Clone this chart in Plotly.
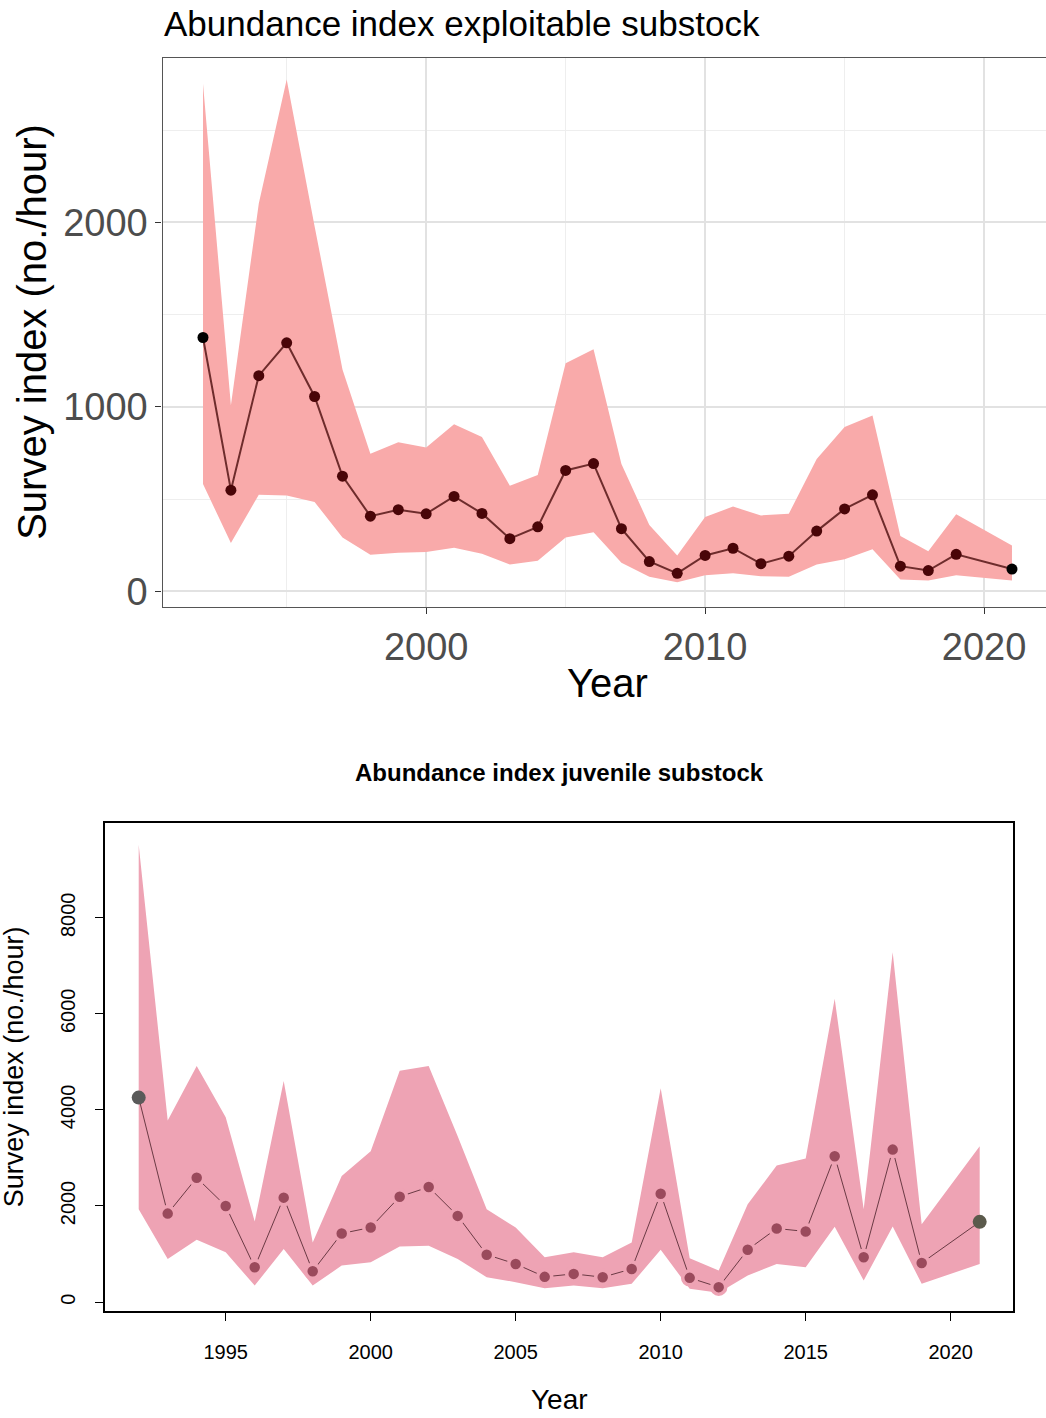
import plotly.graph_objects as go

W, H = 1046, 1418

years = [1992, 1993, 1994, 1995, 1996, 1997, 1998, 1999, 2000, 2001,
         2002, 2003, 2004, 2005, 2006, 2007, 2008, 2009, 2010, 2011,
         2012, 2013, 2014, 2015, 2016, 2017, 2018, 2019, 2021]

# exploitable substock (top panel)
expl_index = [1376, 548, 1169, 1347, 1056, 624, 407, 442, 420, 514,
              422, 285, 349, 655, 692, 339, 161, 97, 194, 233,
              149, 190, 326, 446, 523, 136, 112, 200, 120]
expl_upper = [2752, 1008, 2103, 2775, 1980, 1202, 746, 808, 779, 905,
              837, 572, 630, 1236, 1312, 690, 359, 194, 403, 459,
              411, 420, 717, 891, 953, 300, 217, 417, 248]
expl_lower = [581, 262, 523, 519, 484, 291, 198, 209, 213, 236,
              203, 145, 165, 291, 320, 155, 78, 48, 87, 97,
              81, 78, 145, 174, 227, 64, 58, 87, 58]

# juvenile substock (bottom panel)
juv_index = [4257, 1842, 2588, 2001, 725, 2174, 642, 1428, 1553, 2194,
             2394, 1794, 987, 794, 525, 587, 518, 690, 2256, 504,
             311, 1090, 1532, 1470, 3036, 932, 3174, 814, 1670]
juv_upper = [9522, 3781, 4913, 3850, 1680, 4602, 1242, 2622, 3140, 4816,
             4913, 3450, 1932, 1553, 932, 1035, 932, 1242, 4451, 911,
             656, 2036, 2843, 2988, 6314, 1932, 7280, 1622, 3243]
juv_lower = [1932, 897, 1297, 1035, 345, 1104, 345, 759, 828, 1159,
             1173, 897, 518, 414, 290, 345, 290, 380, 1090, 276,
             193, 552, 794, 725, 1566, 449, 1573, 380, 794]

top_xticks = [2000, 2010, 2020]
top_yticks = [0, 1000, 2000]
bot_xticks = [1995, 2000, 2005, 2010, 2015, 2020]
bot_yticks = [0, 2000, 4000, 6000, 8000]

FONT = 'Liberation Sans, Arial, sans-serif'
TOP_FILL = '#F9AAAA'
BOT_FILL = '#EEA3B4'


def px(x):
    return x / W


def py(y):
    return 1 - y / H


n = len(years)
top_marker_cols = ['#000000'] + ['#4A0508'] * (n - 2) + ['#000000']
bot_marker_cols = ['#5A5A5A'] + ['#9A4A5C'] * (n - 2) + ['#5B5A4C']
# ring in band colour gives the base-R "type='b'" gap round each point
bot_ring_cols = ['rgba(0,0,0,0)'] + [BOT_FILL] * (n - 2) + ['rgba(0,0,0,0)']

fig = go.Figure()

# top panel
fig.add_trace(go.Scatter(x=years, y=expl_lower, mode='lines', line=dict(width=0),
                         showlegend=False, hoverinfo='skip', xaxis='x', yaxis='y'))
fig.add_trace(go.Scatter(x=years, y=expl_upper, mode='lines', line=dict(width=0),
                         fill='tonexty', fillcolor=TOP_FILL, showlegend=False,
                         hoverinfo='skip', xaxis='x', yaxis='y'))
fig.add_trace(go.Scatter(x=years, y=expl_index, mode='lines+markers',
                         line=dict(color='#6E2C2C', width=2),
                         marker=dict(size=11, color=top_marker_cols),
                         showlegend=False, xaxis='x', yaxis='y'))

# bottom panel
fig.add_trace(go.Scatter(x=years, y=juv_lower, mode='lines', line=dict(width=0),
                         showlegend=False, hoverinfo='skip', xaxis='x2', yaxis='y2'))
fig.add_trace(go.Scatter(x=years, y=juv_upper, mode='lines', line=dict(width=0),
                         fill='tonexty', fillcolor=BOT_FILL, showlegend=False,
                         hoverinfo='skip', xaxis='x2', yaxis='y2'))
fig.add_trace(go.Scatter(x=years, y=juv_index, mode='lines+markers',
                         line=dict(color='#6A3A44', width=1),
                         marker=dict(size=14, color=bot_marker_cols,
                                     line=dict(color=bot_ring_cols, width=3.5)),
                         showlegend=False, xaxis='x2', yaxis='y2'))

grid_major = '#E2E2E2'
grid_minor = '#EEEEEE'

fig.update_layout(
    width=W, height=H,
    margin=dict(l=0, r=0, t=0, b=0),
    paper_bgcolor='white',
    plot_bgcolor='white',
    font=dict(family=FONT),
    xaxis=dict(
        domain=[px(162.5), 1.0], range=[1990.548, 2022.22], anchor='y',
        tickvals=top_xticks, ticks='outside', ticklen=6, tickwidth=1.3,
        tickcolor='#333333', tickfont=dict(size=38, color='#4D4D4D'),
        showline=True, linecolor='#555555', linewidth=1.3, mirror=True,
        showgrid=True, gridcolor=grid_major, gridwidth=1.6, zeroline=False,
        minor=dict(tickvals=[1995, 2005, 2015], showgrid=True,
                   gridcolor=grid_minor, gridwidth=1, ticks=''),
    ),
    yaxis=dict(
        domain=[py(609.3), py(58)], range=[-86.5, 2893], anchor='x',
        tickvals=top_yticks, ticks='outside', ticklen=6, tickwidth=1.3,
        tickcolor='#333333', tickfont=dict(size=38, color='#4D4D4D'),
        showline=True, linecolor='#555555', linewidth=1.3,
        showgrid=True, gridcolor=grid_major, gridwidth=1.6, zeroline=False,
        minor=dict(tickvals=[500, 1500, 2500], showgrid=True,
                   gridcolor=grid_minor, gridwidth=1, ticks=''),
    ),
    xaxis2=dict(
        domain=[px(105), px(1013.3)], range=[1990.838, 2022.159], anchor='y2',
        tickvals=bot_xticks, ticks='outside', ticklen=8, tickwidth=1,
        tickcolor='#000000', tickfont=dict(size=20, color='#000000'),
        ticklabelstandoff=14,
        showline=True, linecolor='#000000', linewidth=1.5, mirror=True,
        showgrid=False, zeroline=False,
    ),
    yaxis2=dict(
        domain=[py(1315.7), py(826)], range=[-187, 9971], anchor='x2',
        tickvals=bot_yticks, ticks='outside', ticklen=8, tickwidth=1,
        tickcolor='#000000', tickfont=dict(size=20, color='#000000'),
        tickangle=-90, ticklabelstandoff=12,
        showline=True, linecolor='#000000', linewidth=1.5, mirror=True,
        showgrid=False, zeroline=False,
    ),
)

annotations = [
    dict(text='Abundance index exploitable substock', x=px(162), y=py(24),
         xanchor='left', yanchor='middle', font=dict(size=35, color='#000000')),
    dict(text='Survey index (no./hour)', x=px(32), y=py(333), textangle=-90,
         xanchor='center', yanchor='middle', font=dict(size=40, color='#000000')),
    dict(text='Year', x=px(607), y=py(685), xanchor='center', yanchor='middle',
         font=dict(size=40, color='#000000')),
    dict(text='<b>Abundance index juvenile substock</b>', x=px(559), y=py(775),
         xanchor='center', yanchor='middle', font=dict(size=24, color='#000000')),
    dict(text='Survey index (no./hour)', x=px(14), y=py(1071), textangle=-90,
         xanchor='center', yanchor='middle', font=dict(size=27, color='#000000')),
    dict(text='Year', x=px(559), y=py(1404), xanchor='center', yanchor='middle',
         font=dict(size=28, color='#000000')),
]
for a in annotations:
    a.update(xref='paper', yref='paper', showarrow=False)
fig.update_layout(annotations=annotations)

fig.write_html('out.html', config={'displayModeBar': False},
               post_script="document.body.style.margin='0';")
